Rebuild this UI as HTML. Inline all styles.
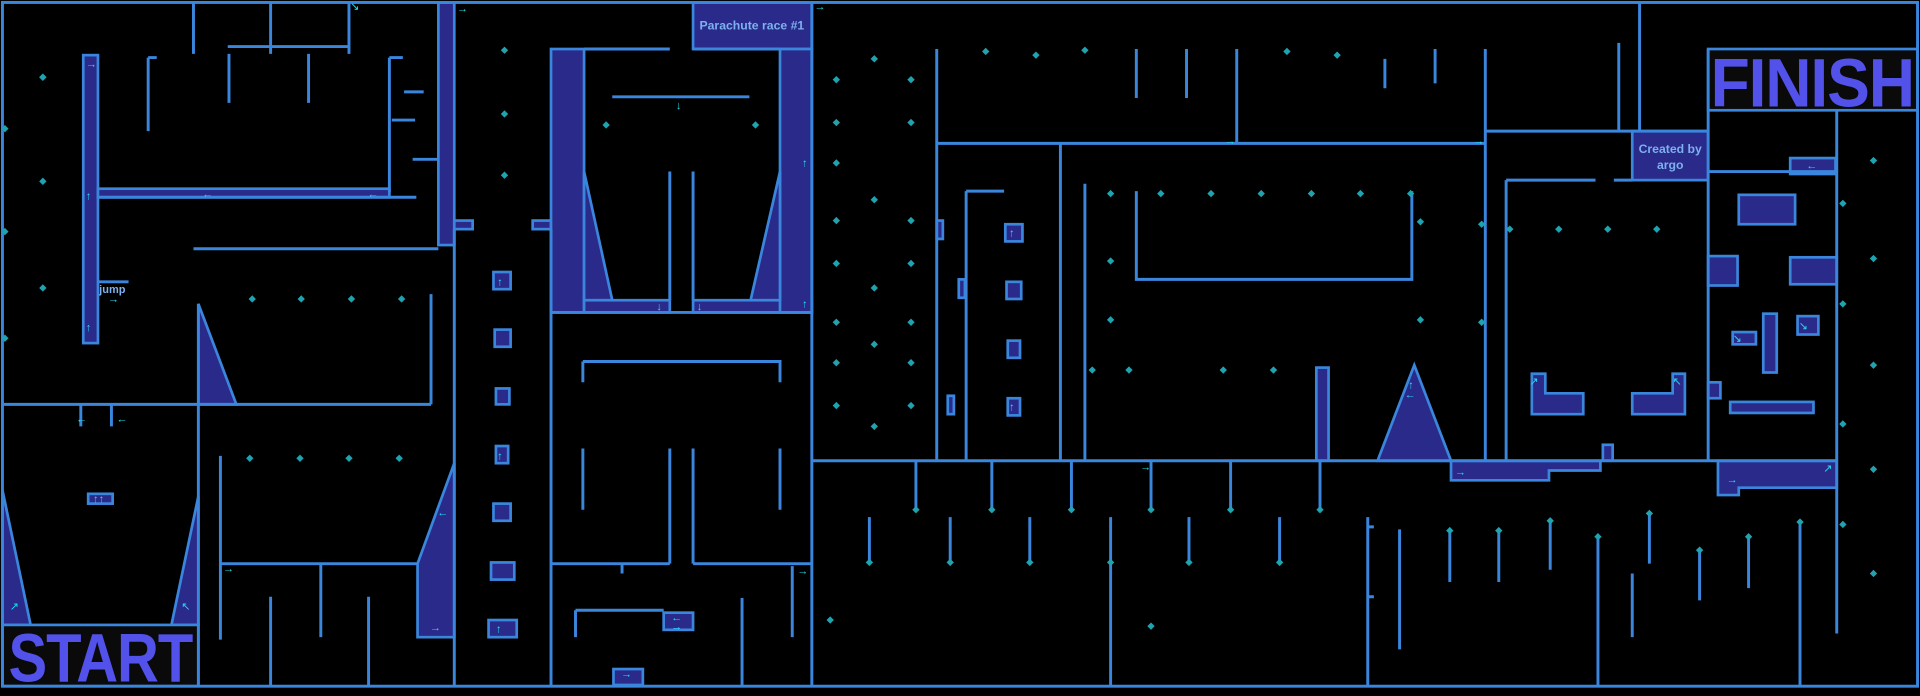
<!DOCTYPE html>
<html><head><meta charset="utf-8"><style>
html,body{margin:0;padding:0;background:#000;width:1920px;height:696px;overflow:hidden}
svg{display:block}
.w{stroke:#3a86dd;stroke-width:2.4;fill:none}
.f{fill:#2a2a8a;stroke:#3a86dd;stroke-width:2.2}
.a{fill:#22ddee;font:9px "Liberation Sans",sans-serif}
.big{font:900 56px "Liberation Sans",sans-serif;fill:#5252ea;letter-spacing:-1px}
.lbl{font:bold 10px "Liberation Sans",sans-serif;fill:#7db0ee}
</style></head><body>
<svg width="1920" height="696" viewBox="0 0 1568 568" preserveAspectRatio="none">
<rect x="0" y="0" width="1568" height="568" fill="#000"/>
<g class="f">
<rect x="68" y="45" width="12" height="235"/>
<rect x="80" y="154" width="238" height="7"/>
<rect x="358" y="2" width="13" height="198"/>
<rect x="371" y="180" width="15" height="7"/>
<rect x="435" y="180" width="15" height="7"/>
<polygon points="162,248 193,330 162,330"/>
<polygon points="2,400 25,510 2,510"/>
<polygon points="162,405 140,510 162,510"/>
<polygon points="371,378 371,520 341,520 341,460"/>
<rect x="2" y="510" width="160" height="50" fill="#0a0a0a"/>
<rect x="1395" y="40" width="171" height="50" fill="#0a0a0a"/>
<rect x="450" y="40" width="27" height="215"/>
<rect x="477" y="245" width="70" height="10"/>
<rect x="566" y="245" width="97" height="10"/>
<rect x="566" y="2" width="97" height="38"/>
<rect x="637" y="40" width="26" height="215"/>
<polygon points="477,140 500,245 477,245"/>
<polygon points="637,140 613,245 637,245"/>
<rect x="72" y="403" width="20" height="8"/>
<rect x="403" y="222" width="14" height="14"/>
<rect x="404" y="269" width="13" height="14"/>
<rect x="405" y="317" width="11" height="13"/>
<rect x="405" y="364" width="10" height="14"/>
<rect x="403" y="411" width="14" height="14"/>
<rect x="401" y="459" width="19" height="14"/>
<rect x="399" y="506" width="23" height="14"/>
<rect x="542" y="500" width="24" height="14"/>
<rect x="501" y="546" width="24" height="13"/>
<rect x="821" y="183" width="14" height="14"/>
<rect x="822" y="230" width="12" height="14"/>
<rect x="823" y="278" width="10" height="14"/>
<rect x="823" y="325" width="10" height="14"/>
<rect x="765" y="180" width="5" height="15"/>
<rect x="783" y="228" width="5" height="15"/>
<rect x="774" y="323" width="5" height="15"/>
<rect x="1075" y="300" width="10" height="76"/>
<polygon points="1155,298 1185,376 1125,376"/>
<polygon points="1185,376 1307,376 1307,384 1265,384 1265,392 1185,392"/>
<rect x="1309" y="363" width="8" height="13"/>
<polygon points="1403,376 1500,376 1500,398 1420,398 1420,404 1403,404"/>
<rect x="1333" y="107" width="62" height="40"/>
<polygon points="1251,305 1262,305 1262,321 1293,321 1293,338 1251,338"/>
<polygon points="1376,305 1366,305 1366,321 1333,321 1333,338 1376,338"/>
<rect x="1462" y="129" width="37" height="13"/>
<rect x="1420" y="159" width="46" height="24"/>
<rect x="1395" y="209" width="24" height="24"/>
<rect x="1462" y="210" width="38" height="22"/>
<rect x="1440" y="256" width="11" height="48"/>
<rect x="1415" y="271" width="19" height="10"/>
<rect x="1468" y="258" width="17" height="15"/>
<rect x="1395" y="312" width="10" height="13"/>
<rect x="1413" y="328" width="68" height="9"/>
</g>
<g class="w">
<rect x="2" y="2" width="1564" height="558"/>
<path d="M158 2V44M221 2V44M285 2V44M187 44V84M252 44V84M186 38H286"/>
<path d="M121 47V107M121 47H128M318 47V157M318 47H329M330 75H346M320 98H339M337 130H358"/>
<path d="M80 161H340M158 203H358M80 230H105"/>
<path d="M2 330H352M352 240V330M162 248V560M91 330V348M66 330V348M91 348H91"/>
<path d="M180 372V522M180 460H341M262 460V520M221 487V560M301 487V560"/>
<path d="M371 187V560M450 187V560M450 255H663M663 2V560"/>
<path d="M477 40H547M566 40H637M500 79H612M547 140V245M566 140V245"/>
<path d="M476 295V312M476 295H637V312M476 366V416M547 366V460M566 366V460M637 366V416M450 460H547M508 460V468M566 460H663M470 498V520M470 498H542M606 488V560M647 462V520"/>
<path d="M663 376H1500M765 40V376M866 117V376M765 117H1213M1010 40V117M1213 40V376M1213 107H1395M1395 40V376M1500 90V517"/>
<path d="M789 156V376M789 156H820M886 150V376M928 156V228H1153V156"/>
<path d="M1230 147V376M1230 147H1303M1318 147H1333M928 40V80M969 40V80M1131 48V72M1172 40V68M1339 2V24M1322 35V107M1339 24V107"/>
<path d="M748 376V418M810 376V418M875 376V418M940 376V418M1005 376V418M1078 376V418M710 422V460M776 422V460M841 422V460M907 422V560M971 422V460M1045 422V460M1117 422V560M1143 432V530M1184 432V475M1224 432V475M1266 424V465M1305 437V560M1347 418V460M1333 468V520M1388 448V490M1428 437V480M1470 425V560M1117 430H1122M1117 487H1122"/>
<path d="M1395 140H1500"/>
</g>
<g fill="#1fa3b0">
<path id="d" d="M0,-3L3,0L0,3L-3,0Z" transform="translate(35,63)"/>
</g>
<g fill="#1fa3b0">
<script></script>
</g>
<g fill="#1fa3b0" id="dots"></g>
<text x="7" y="556" class="big" textLength="150" lengthAdjust="spacingAndGlyphs">START</text>
<text x="1397" y="87" class="big" textLength="166" lengthAdjust="spacingAndGlyphs">FINISH</text>
<text x="614" y="24" class="lbl" text-anchor="middle">Parachute race #1</text>
<text x="1364" y="125" class="lbl" text-anchor="middle">Created by</text>
<text x="1364" y="138" class="lbl" text-anchor="middle">argo</text>
<text x="81" y="239" class="lbl" style="font-size:9px">jump</text>
<g class="a">
<text x="70" y="55">→</text><text x="70" y="163">↑</text><text x="70" y="270">↑</text>
<text x="165" y="161">←</text><text x="300" y="161">←</text><text x="88" y="247">→</text>
<text x="62" y="345">←</text><text x="95" y="345">←</text><text x="76" y="410">↑↑</text>
<text x="8" y="498">↗</text><text x="148" y="498">↖</text><text x="182" y="467">→</text>
<text x="357" y="421">←</text><text x="351" y="515">→</text><text x="286" y="8">↘</text><text x="373" y="10">→</text>
<text x="406" y="233">↑</text><text x="406" y="375">↑</text><text x="405" y="516">↑</text>
<text x="552" y="89">↓</text><text x="536" y="253">↓</text><text x="569" y="253">↓</text>
<text x="655" y="136">↑</text><text x="655" y="251">↑</text><text x="665" y="8">→</text>
<text x="548" y="507">←</text><text x="548" y="514">→</text><text x="507" y="553">→</text><text x="651" y="469">→</text>
<text x="824" y="193">↑</text><text x="824" y="335">↑</text><text x="931" y="384">→</text><text x="1000" y="118">→</text><text x="1203" y="118">→</text>
<text x="1150" y="317">↑</text><text x="1147" y="325">←</text><text x="1188" y="388">→</text>
<text x="1249" y="314">↗</text><text x="1366" y="314">↖</text><text x="1475" y="138">←</text>
<text x="1415" y="279">↘</text><text x="1469" y="269">↘</text><text x="1410" y="394">→</text><text x="1489" y="385">↗</text>
</g>
<g fill="#1fa3b0">
<path d="M35,60l3,3-3,3-3-3zM35,145l3,3-3,3-3-3zM35,232l3,3-3,3-3-3zM4,102l3,3-3,3-3-3zM4,186l3,3-3,3-3-3zM4,273l3,3-3,3-3-3z
M206,241l3,3-3,3-3-3zM246,241l3,3-3,3-3-3zM287,241l3,3-3,3-3-3zM328,241l3,3-3,3-3-3zM204,371l3,3-3,3-3-3zM245,371l3,3-3,3-3-3zM285,371l3,3-3,3-3-3zM326,371l3,3-3,3-3-3z
M412,38l3,3-3,3-3-3zM412,90l3,3-3,3-3-3zM412,140l3,3-3,3-3-3zM495,99l3,3-3,3-3-3zM617,99l3,3-3,3-3-3z
M683,62l3,3-3,3-3-3zM714,45l3,3-3,3-3-3zM744,62l3,3-3,3-3-3zM683,97l3,3-3,3-3-3zM744,97l3,3-3,3-3-3zM683,130l3,3-3,3-3-3zM714,160l3,3-3,3-3-3zM683,177l3,3-3,3-3-3zM744,177l3,3-3,3-3-3zM683,212l3,3-3,3-3-3zM744,212l3,3-3,3-3-3zM714,232l3,3-3,3-3-3zM683,260l3,3-3,3-3-3zM744,260l3,3-3,3-3-3zM714,278l3,3-3,3-3-3zM683,293l3,3-3,3-3-3zM744,293l3,3-3,3-3-3zM683,328l3,3-3,3-3-3zM744,328l3,3-3,3-3-3zM714,345l3,3-3,3-3-3z
M805,39l3,3-3,3-3-3zM846,42l3,3-3,3-3-3zM886,38l3,3-3,3-3-3zM1051,39l3,3-3,3-3-3zM1092,42l3,3-3,3-3-3z
M907,155l3,3-3,3-3-3zM948,155l3,3-3,3-3-3zM989,155l3,3-3,3-3-3zM1030,155l3,3-3,3-3-3zM1071,155l3,3-3,3-3-3zM1111,155l3,3-3,3-3-3zM1152,155l3,3-3,3-3-3zM907,210l3,3-3,3-3-3zM1160,178l3,3-3,3-3-3zM907,258l3,3-3,3-3-3zM1160,258l3,3-3,3-3-3zM892,299l3,3-3,3-3-3zM922,299l3,3-3,3-3-3zM999,299l3,3-3,3-3-3zM1040,299l3,3-3,3-3-3zM1210,180l3,3-3,3-3-3zM1210,260l3,3-3,3-3-3z
M1233,184l3,3-3,3-3-3zM1273,184l3,3-3,3-3-3zM1313,184l3,3-3,3-3-3zM1353,184l3,3-3,3-3-3zM1530,128l3,3-3,3-3-3zM1530,208l3,3-3,3-3-3zM1530,295l3,3-3,3-3-3zM1530,380l3,3-3,3-3-3zM1530,465l3,3-3,3-3-3zM1505,163l3,3-3,3-3-3zM1505,245l3,3-3,3-3-3zM1505,343l3,3-3,3-3-3zM1505,425l3,3-3,3-3-3z
M748,413l3,3-3,3-3-3zM810,413l3,3-3,3-3-3zM875,413l3,3-3,3-3-3zM940,413l3,3-3,3-3-3zM1005,413l3,3-3,3-3-3zM1078,413l3,3-3,3-3-3zM710,456l3,3-3,3-3-3zM776,456l3,3-3,3-3-3zM841,456l3,3-3,3-3-3zM907,456l3,3-3,3-3-3zM971,456l3,3-3,3-3-3zM1045,456l3,3-3,3-3-3zM678,503l3,3-3,3-3-3zM940,508l3,3-3,3-3-3z
M1184,430l3,3-3,3-3-3zM1224,430l3,3-3,3-3-3zM1266,422l3,3-3,3-3-3zM1305,435l3,3-3,3-3-3zM1347,416l3,3-3,3-3-3zM1388,446l3,3-3,3-3-3zM1428,435l3,3-3,3-3-3zM1470,423l3,3-3,3-3-3z"/>
</g>
</svg>
</body></html>
